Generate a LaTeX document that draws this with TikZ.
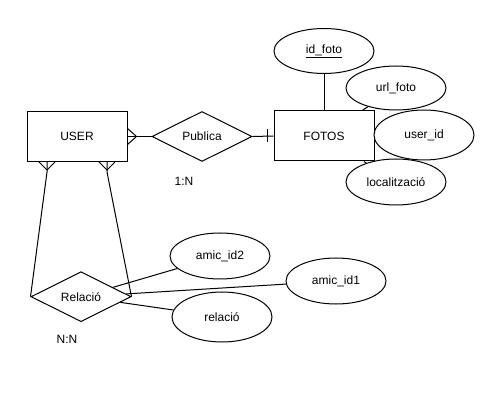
\documentclass[tikz,border=0pt]{standalone}
\usepackage{fontspec}
\setmainfont{Liberation Sans}
\usetikzlibrary{shapes.geometric,backgrounds,calc}
\begin{document}
\begin{tikzpicture}[x=1pt,y=-1pt,
 every node/.style={font=\fontsize{12}{14}\selectfont},
 entity/.style={draw,fill=white,minimum width=100pt,minimum height=50pt,inner sep=0pt,line width=1pt},
 rel/.style={draw,fill=white,diamond,aspect=2,minimum width=100pt,minimum height=50pt,inner sep=0pt,line width=1pt},
 attr/.style={draw,fill=white,ellipse,minimum width=100pt,minimum height=46pt,inner sep=0pt,line width=1pt},
 conn/.style={line width=1pt},
 lbl/.style={inner sep=0pt}]
\useasboundingbox (0,0) rectangle (500,411);

\node[entity] (user) at (77,136.5) {USER};
\node[rel] (publica) at (202,136.5) {Publica};
\node[entity] (fotos) at (324,136) {FOTOS};
\node[attr,minimum height=45pt] (idfoto) at (324,51) {\underline{id\_foto}};
\node[attr,minimum height=44pt] (urlfoto) at (396,88) {url\_foto};
\node[attr,minimum height=50pt] (userid) at (424,135) {user\_id};
\node[attr] (loc) at (396,182) {localització};
\node[rel] (rela) at (81,296.7) {Relació};
\node[attr] (amic2) at (220,256) {amic\_id2};
\node[attr] (amic1) at (336,281) {amic\_id1};
\node[attr,minimum height=50pt] (relacio) at (222,317) {relació};

\node[lbl] (n1) at (184,181) {1:N};
\node[lbl] (n2) at (67,339.5) {N:N};

\coordinate (ul) at ($(user.south)+(-30,0)$);
\coordinate (ur) at ($(user.south)+(30,0)$);

\begin{pgfonlayer}{background}
\fill[white] (0,0) rectangle (500,411);
\draw[conn] (user.east) -- (publica.west);
\draw[conn] ($(user.east)+(0,-8)$) -- ($(user.east)+(9,0)$) -- ($(user.east)+(0,8)$);
\draw[conn] (publica.east) -- (fotos.west);
\draw[conn] ($(fotos.west)+(-6,-6.5)$) -- ($(fotos.west)+(-6,6.5)$);
\draw[conn] (idfoto) -- (fotos);
\draw[conn] (fotos) -- (urlfoto);
\draw[conn] (fotos) -- (userid);
\draw[conn] (fotos) -- (loc);
\draw[conn] (ul) -- ++(0,10) -- (rela.west);
\draw[conn] ($(ul)+(-8,0)$) -- ($(ul)+(0,8)$) -- ($(ul)+(8,0)$);
\draw[conn] (ur) -- ++(0,10) -- (rela.east);
\draw[conn] ($(ur)+(-8,0)$) -- ($(ur)+(0,8)$) -- ($(ur)+(8,0)$);
\draw[conn] (rela) -- (amic2);
\draw[conn] (rela) -- (amic1);
\draw[conn] (rela) -- (relacio);
\end{pgfonlayer}
\end{tikzpicture}
\end{document}
